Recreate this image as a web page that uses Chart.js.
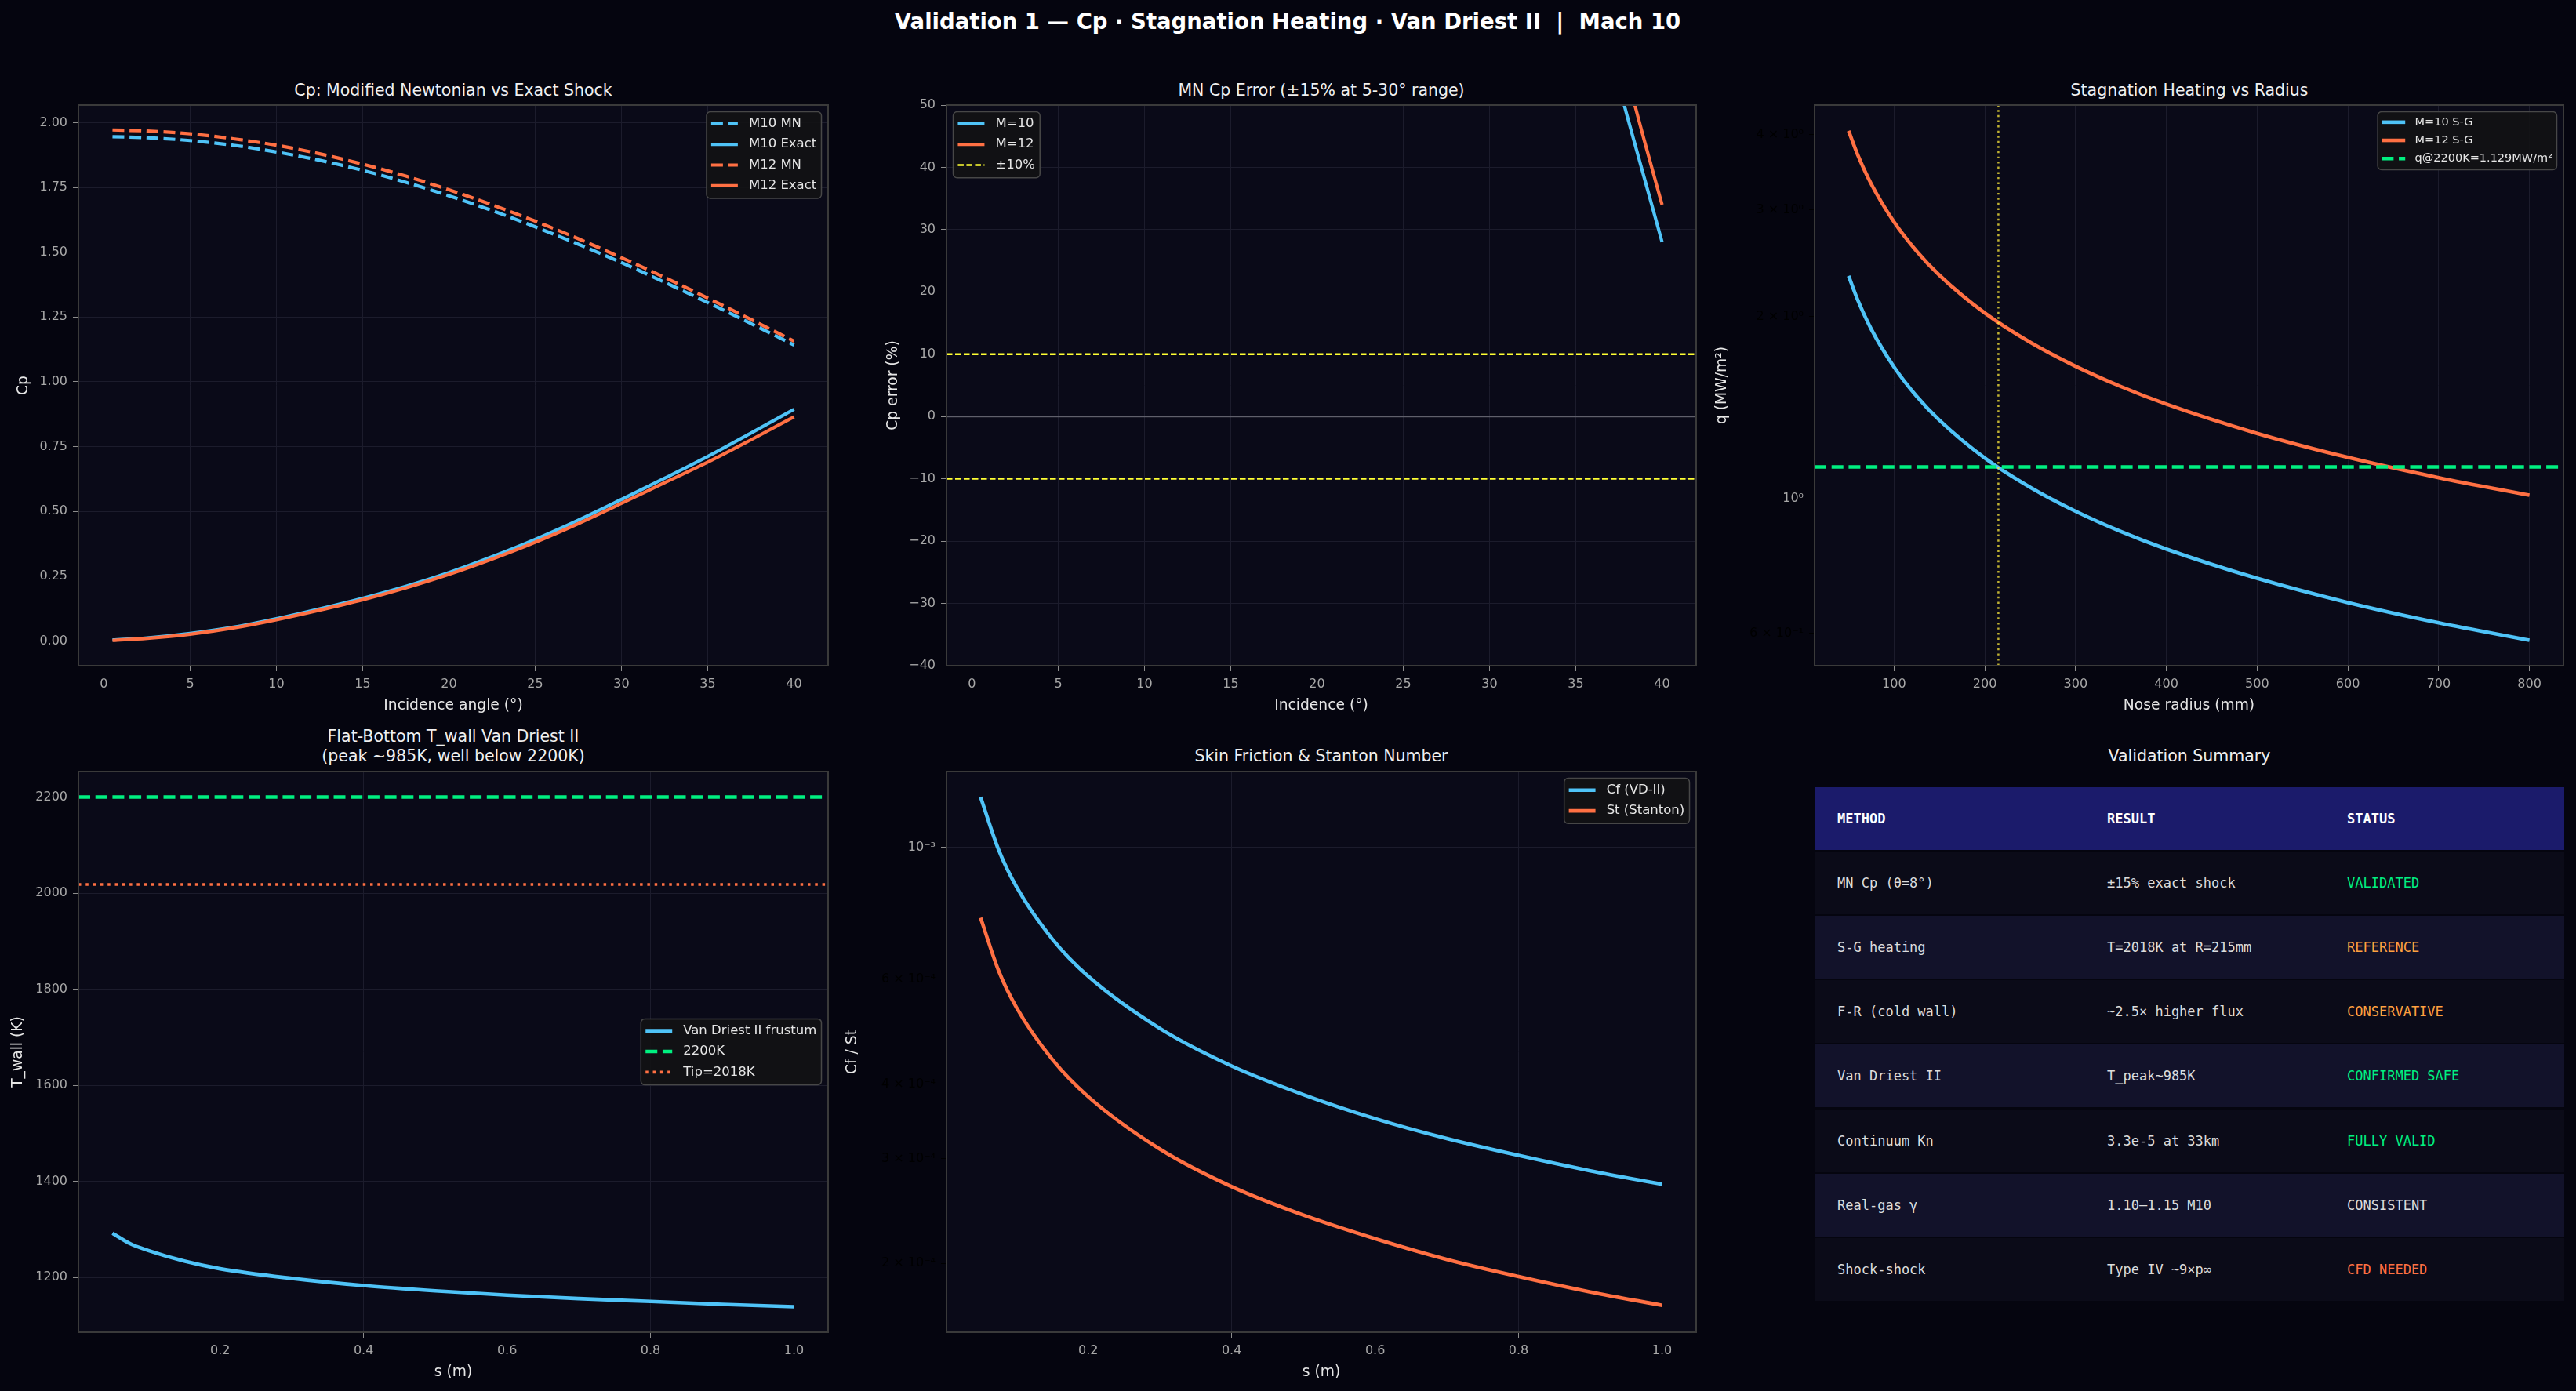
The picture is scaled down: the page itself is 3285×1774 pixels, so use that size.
<!DOCTYPE html>
<html>
<head>
<meta charset="utf-8">
<script src="https://cdn.jsdelivr.net/npm/chart.js@4.4.1/dist/chart.umd.min.js"></script>
<style>
  body { margin: 0; width: 3285px; height: 1774px; background: #05050f; position: relative; overflow: hidden; font-family: "DejaVu Sans", sans-serif; }
  canvas { position: absolute; }
  .ttl { position: absolute; transform: translate(-50%, -50%); color: #f0f0f0; font-size: 20.5px; line-height: 1.2; text-align: center; white-space: pre; }
  #sup { font-size: 27.5px; font-weight: bold; color: #ffffff; }
  .row { position: absolute; left: 2314px; width: 956px; height: 80px; font-family: "DejaVu Sans Mono", monospace; font-size: 17px; color: #dcdcdc; }
  .row span { position: absolute; top: 50%; transform: translateY(-50%); white-space: pre; }
  .row.head { background: #1b1b6b; color: #ffffff; font-weight: bold; }
</style>
</head>
<body>
<div class="ttl" id="sup" style="left:1642px;top:27px">Validation 1 — Cp · Stagnation Heating · Van Driest II  |  Mach 10</div>
<div class="ttl" style="left:578px;top:115px">Cp: Modified Newtonian vs Exact Shock</div>
<div class="ttl" style="left:1685px;top:115px">MN Cp Error (±15% at 5-30° range)</div>
<div class="ttl" style="left:2792px;top:115px">Stagnation Heating vs Radius</div>
<div class="ttl" style="left:578px;top:952px">Flat-Bottom T_wall Van Driest II
(peak ~985K, well below 2200K)</div>
<div class="ttl" style="left:1685px;top:964px">Skin Friction &amp; Stanton Number</div>
<div class="ttl" style="left:2792px;top:964px">Validation Summary</div>
<div id="table"></div>
<script>
// ---- Cp vs incidence angle ----
const incidence = [0.5, 2.5, 5, 7.5, 10, 12.5, 15, 17.5, 20, 22.5, 25, 27.5, 30, 32.5, 35, 37.5, 40];
const cpMnM10 = [1.946, 1.942, 1.931, 1.913, 1.887, 1.855, 1.816, 1.770, 1.718, 1.661, 1.598, 1.531, 1.460, 1.384, 1.306, 1.225, 1.142];
const cpExactM10 = [0.004, 0.012, 0.029, 0.053, 0.086, 0.124, 0.165, 0.211, 0.264, 0.325, 0.392, 0.466, 0.546, 0.628, 0.712, 0.802, 0.894];
const cpMnM12 = [1.972, 1.968, 1.957, 1.938, 1.913, 1.880, 1.840, 1.794, 1.741, 1.683, 1.620, 1.552, 1.479, 1.403, 1.323, 1.241, 1.157];
const cpExactM12 = [0.002, 0.010, 0.026, 0.050, 0.082, 0.119, 0.159, 0.205, 0.257, 0.316, 0.381, 0.453, 0.531, 0.611, 0.690, 0.776, 0.865];
const angleTicks = [0, 5, 10, 15, 20, 25, 30, 35, 40];
const cpTicks = [0, 0.25, 0.5, 0.75, 1.0, 1.25, 1.5, 1.75, 2.0];

// ---- MN Cp error (%) ----
const errAngle = [35, 36, 37, 38, 39, 40];
const errM10 = [83, 70, 58.5, 48, 38, 28];
const errM12 = [92, 79, 66, 54.5, 44, 34];
const errBand = 10;
const errTicks = [-40, -30, -20, -10, 0, 10, 20, 30, 40, 50];

// ---- stagnation heating vs nose radius ----
const noseRadius = [50, 60, 75, 100, 125, 150, 200, 250, 300, 350, 400, 500, 600, 700, 800];
const qM10 = [2.336, 2.132, 1.907, 1.652, 1.477, 1.349, 1.168, 1.045, 0.954, 0.883, 0.826, 0.739, 0.674, 0.624, 0.584];
const qM12 = [4.056, 3.703, 3.312, 2.868, 2.565, 2.342, 2.028, 1.814, 1.656, 1.533, 1.434, 1.283, 1.171, 1.084, 1.014];
const q2200 = 1.129;
const radius2200 = 215;
const radiusTicks = [100, 200, 300, 400, 500, 600, 700, 800];
const qTicks = [0.6, 1, 2, 3, 4];
const qTickLabels = ['6 × 10⁻¹', '10⁰', '2 × 10⁰', '3 × 10⁰', '4 × 10⁰'];

// ---- Van Driest II along the frustum ----
const sPos = [0.05, 0.075, 0.1, 0.15, 0.2, 0.3, 0.4, 0.5, 0.6, 0.7, 0.8, 0.9, 1.0];
const tWall = [1292, 1270, 1256, 1234, 1218, 1198, 1183, 1172, 1163, 1156, 1150, 1144, 1139];
const tLimit = 2200;
const tTip = 2018;
const tTicks = [1200, 1400, 1600, 1800, 2000, 2200];
const sTicks = [0.2, 0.4, 0.6, 0.8, 1.0];
const cf = [1.214e-3, 0.991e-3, 0.858e-3, 0.701e-3, 0.607e-3, 0.496e-3, 0.429e-3, 0.384e-3, 0.350e-3, 0.324e-3, 0.3035e-3, 0.286e-3, 0.2715e-3];
const st = [0.761e-3, 0.621e-3, 0.538e-3, 0.440e-3, 0.381e-3, 0.311e-3, 0.269e-3, 0.241e-3, 0.220e-3, 0.203e-3, 0.190e-3, 0.179e-3, 0.170e-3];
const cfTicks = [2e-4, 3e-4, 4e-4, 6e-4, 1e-3];
const cfTickLabels = ['2 × 10⁻⁴', '3 × 10⁻⁴', '4 × 10⁻⁴', '6 × 10⁻⁴', '10⁻³'];

// ---- summary table ----
const methods = ['MN Cp (θ=8°)', 'S-G heating', 'F-R (cold wall)', 'Van Driest II', 'Continuum Kn', 'Real-gas γ', 'Shock-shock'];
const results = ['±15% exact shock', 'T=2018K at R=215mm', '~2.5× higher flux', 'T_peak~985K', '3.3e-5 at 33km', '1.10–1.15 M10', 'Type IV ~9×p∞'];
const statuses = ['VALIDATED', 'REFERENCE', 'CONSERVATIVE', 'CONFIRMED SAFE', 'FULLY VALID', 'CONSISTENT', 'CFD NEEDED'];

const FONT = '"DejaVu Sans", sans-serif';
const BLUE = '#4fc3f7', ORANGE = '#ff7043', GREEN = '#00f080', YELLOW = '#ffff33';
const GRID = '#1c1c2c', TICK = '#8c8c8c', LABEL = '#a8a8a8', AXT = '#e6e6e6';
const statusColor = { VALIDATED: GREEN, 'CONFIRMED SAFE': GREEN, 'FULLY VALID': GREEN, REFERENCE: '#ffa040', CONSERVATIVE: '#ffa040', CONSISTENT: '#dcdcdc', 'CFD NEEDED': ORANGE };

Chart.defaults.font.family = FONT;
Chart.defaults.animation = false;

const pts = (xs, ys) => xs.map((x, i) => ({ x, y: ys[i] }));
const line = (label, xs, ys, color, extra) => Object.assign({
  label, data: pts(xs, ys), borderColor: color, backgroundColor: color, borderWidth: 4.6,
  pointRadius: 0, fill: false, cubicInterpolationMode: 'monotone'
}, extra || {});

// facecolor + full spine box like matplotlib
const frame = {
  id: 'frame',
  beforeDraw(chart) {
    const { ctx, chartArea: a } = chart;
    ctx.save(); ctx.fillStyle = '#0a0a18';
    ctx.fillRect(a.left, a.top, a.width, a.height); ctx.restore();
  },
  afterDatasetsDraw(chart) {
    const { ctx, chartArea: a } = chart;
    ctx.save(); ctx.strokeStyle = '#3a3a3a'; ctx.lineWidth = 2;
    ctx.strokeRect(a.left, a.top, a.width, a.height); ctx.restore();
  }
};

// legend drawn inside the axes
const mplLegend = {
  id: 'mplLegend',
  afterDraw(chart, args, o) {
    if (!o || !o.loc) return;
    const { ctx, chartArea: a } = chart;
    const fs = o.size;
    const items = chart.data.datasets.filter(d => d.label);
    ctx.save();
    ctx.font = fs + 'px ' + FONT;
    const rowH = fs * 1.6;
    const tw = Math.max(...items.map(d => ctx.measureText(d.label).width));
    const w = fs * (0.36 + 2.06 + 0.85 + 0.38) + tw;
    const h = items.length * rowH + fs * 0.3;
    const x = o.loc.includes('left') ? a.left + 8.5 : a.right - 8.5 - w;
    const y = o.loc.startsWith('upper') ? a.top + 8.5 : (a.top + a.bottom - h) / 2;
    ctx.beginPath();
    if (ctx.roundRect) ctx.roundRect(x, y, w, h, 5); else ctx.rect(x, y, w, h);
    ctx.fillStyle = 'rgba(18,18,20,0.93)'; ctx.fill();
    ctx.strokeStyle = '#474747'; ctx.lineWidth = 1.5; ctx.stroke();
    items.forEach((d, i) => {
      const cy = y + fs * 0.12 + rowH * (i + 0.5);
      ctx.beginPath();
      ctx.setLineDash(d.borderDash || []);
      ctx.lineWidth = d.borderWidth; ctx.strokeStyle = d.borderColor;
      ctx.moveTo(x + fs * 0.36, cy); ctx.lineTo(x + fs * 2.42, cy); ctx.stroke();
      ctx.setLineDash([]);
      ctx.fillStyle = '#e6e6e6'; ctx.textBaseline = 'middle';
      ctx.fillText(d.label, x + fs * 3.27, cy);
    });
    ctx.restore();
  }
};

function axis(o) {
  const horiz = o.pos === 'x';
  return {
    type: o.type || 'linear', min: o.min, max: o.max,
    afterFit: s => { if (horiz) s.height = 80; else s.width = o.width; },
    afterBuildTicks: s => { s.ticks = o.ticks.map(v => ({ value: v })); },
    ticks: { color: o.tickColor || LABEL, font: { size: 16 }, padding: 7, maxRotation: 0, autoSkip: false, callback: o.fmt },
    grid: { color: o.gridColor || GRID, tickColor: o.tickMark || TICK, tickLength: 7, lineWidth: 1 },
    border: { display: false },
    title: { display: true, text: o.title, color: AXT, font: { size: 18.7 },
      padding: horiz ? { top: 0, bottom: 17.8 } : { top: 8.8, bottom: 0 } }
  };
}

function panel(box, datasets, x, y, legend) {
  const c = document.createElement('canvas');
  const left = box.ylab - 20, top = box.t - 20;
  const w = box.r + 12 - left, h = box.b + 80 - top;
  c.width = w; c.height = h;
  c.style.left = left + 'px'; c.style.top = top + 'px';
  document.body.appendChild(c);
  datasets.forEach((d, i) => { d.order = -i; });
  new Chart(c, {
    type: 'line',
    data: { datasets },
    options: {
      responsive: false, devicePixelRatio: 1, animation: false,
      layout: { padding: { top: 20, right: 12, left: 0, bottom: 0 } },
      scales: { x: axis(Object.assign({ pos: 'x' }, x)), y: axis(Object.assign({ pos: 'y', width: box.l - left }, y)) },
      plugins: { legend: { display: false }, tooltip: { enabled: false }, mplLegend: legend }
    },
    plugins: [frame, mplLegend]
  });
}

const minus = v => (v < 0 ? '−' + Math.abs(v) : String(v));
const dash = [15, 6.7], dot = [3.5, 5.8];

// 1) Cp
panel({ l: 100, t: 134, r: 1056, b: 849, ylab: 30 }, [
  line('M10 MN', incidence, cpMnM10, BLUE, { borderDash: dash, borderWidth: 4.2 }),
  line('M10 Exact', incidence, cpExactM10, BLUE, { borderWidth: 4.2 }),
  line('M12 MN', incidence, cpMnM12, ORANGE, { borderDash: dash, borderWidth: 4.2 }),
  line('M12 Exact', incidence, cpExactM12, ORANGE, { borderWidth: 4.2 })
], { min: -1.475, max: 41.975, ticks: angleTicks, title: 'Incidence angle (°)' },
   { min: -0.0955, max: 2.068, ticks: cpTicks, title: 'Cp', fmt: v => v.toFixed(2) },
   { loc: 'upper right', size: 16.5 });

// 2) MN error
panel({ l: 1207, t: 134, r: 2163, b: 849, ylab: 1139 }, [
  line('M=10', errAngle, errM10, BLUE, { borderWidth: 4.2 }),
  line('M=12', errAngle, errM12, ORANGE, { borderWidth: 4.2 }),
  line('±10%', [-1.475, 41.975], [errBand, errBand], YELLOW, { borderWidth: 2.4, borderDash: [7.5, 3.5] }),
  line('', [-1.475, 41.975], [-errBand, -errBand], YELLOW, { borderWidth: 2.4, borderDash: [7.5, 3.5] }),
  line('', [-1.475, 41.975], [0, 0], 'rgba(255,255,255,0.3)', { borderWidth: 2 })
], { min: -1.475, max: 41.975, ticks: angleTicks, title: 'Incidence (°)' },
   { min: -40, max: 50, ticks: errTicks, title: 'Cp error (%)', fmt: minus },
   { loc: 'upper left', size: 16.5 });

// 3) stagnation heating (log y)
const qMajor = v => v === 1;
panel({ l: 2314, t: 134, r: 3269, b: 849, ylab: 2196 }, [
  line('M=10 S-G', noseRadius, qM10, BLUE),
  line('M=12 S-G', noseRadius, qM12, ORANGE),
  line('q@2200K=' + q2200 + 'MW/m²', [12.5, 837.5], [q2200, q2200], GREEN, { borderDash: dash, borderWidth: 4.4 }),
  line('', [radius2200, radius2200], [0.53, 4.474], 'rgba(255,235,59,0.75)', { borderWidth: 2.5, borderDash: [2.5, 4.1] })
], { min: 12.5, max: 837.5, ticks: radiusTicks, title: 'Nose radius (mm)' },
   { type: 'logarithmic', min: 0.53, max: 4.474, ticks: qTicks, title: 'q (MW/m²)',
     fmt: v => qTickLabels[qTicks.indexOf(v)],
     tickColor: c => (qMajor(c.tick.value) ? LABEL : '#000000'),
     tickMark: c => (c.tick && qMajor(c.tick.value) ? TICK : '#000000'),
     gridColor: c => (c.tick && qMajor(c.tick.value) ? GRID : 'rgba(0,0,0,0)') },
   { loc: 'upper right', size: 14.5 });

// 4) wall temperature
panel({ l: 100, t: 984, r: 1056, b: 1699, ylab: 23 }, [
  line('Van Driest II frustum', sPos, tWall, BLUE),
  line('2200K', [0.0025, 1.0475], [tLimit, tLimit], GREEN, { borderDash: dash, borderWidth: 4.4 }),
  line('Tip=2018K', [0.0025, 1.0475], [tTip, tTip], ORANGE, { borderWidth: 3.6, borderDash: dot })
], { min: 0.0025, max: 1.0475, ticks: sTicks, title: 's (m)', fmt: v => v.toFixed(1) },
   { min: 1086, max: 2253, ticks: tTicks, title: 'T_wall (K)' },
   { loc: 'center right', size: 16.5 });

// 5) skin friction & Stanton (log y)
const cfMajor = v => v === 1e-3;
panel({ l: 1207, t: 984, r: 2163, b: 1699, ylab: 1087 }, [
  line('Cf (VD-II)', sPos, cf, BLUE),
  line('St (Stanton)', sPos, st, ORANGE)
], { min: 0.0025, max: 1.0475, ticks: sTicks, title: 's (m)', fmt: v => v.toFixed(1) },
   { type: 'logarithmic', min: 1.532e-4, max: 1.34e-3, ticks: cfTicks, title: 'Cf / St',
     fmt: v => cfTickLabels[cfTicks.indexOf(v)],
     tickColor: c => (cfMajor(c.tick.value) ? LABEL : '#000000'),
     tickMark: c => (c.tick && cfMajor(c.tick.value) ? TICK : '#000000'),
     gridColor: c => (c.tick && cfMajor(c.tick.value) ? GRID : 'rgba(0,0,0,0)') },
   { loc: 'upper right', size: 16.5 });

// 6) summary table
const cols = [29, 373, 679];
const rows = [['METHOD', 'RESULT', 'STATUS']].concat(methods.map((m, i) => [m, results[i], statuses[i]]));
document.getElementById('table').innerHTML = rows.map((r, i) => {
  const bg = i === 0 ? '' : (i % 2 ? '#0b0b18' : '#12122a');
  const cells = r.map((txt, j) => {
    const col = i > 0 && j === 2 ? 'color:' + statusColor[txt] + ';' : '';
    return `<span style="left:${cols[j]}px;${col}">${txt}</span>`;
  }).join('');
  return `<div class="row${i === 0 ? ' head' : ''}" style="top:${1004 + i * 82.1}px;${bg ? 'background:' + bg : ''}">${cells}</div>`;
}).join('');
</script>
</body>
</html>
